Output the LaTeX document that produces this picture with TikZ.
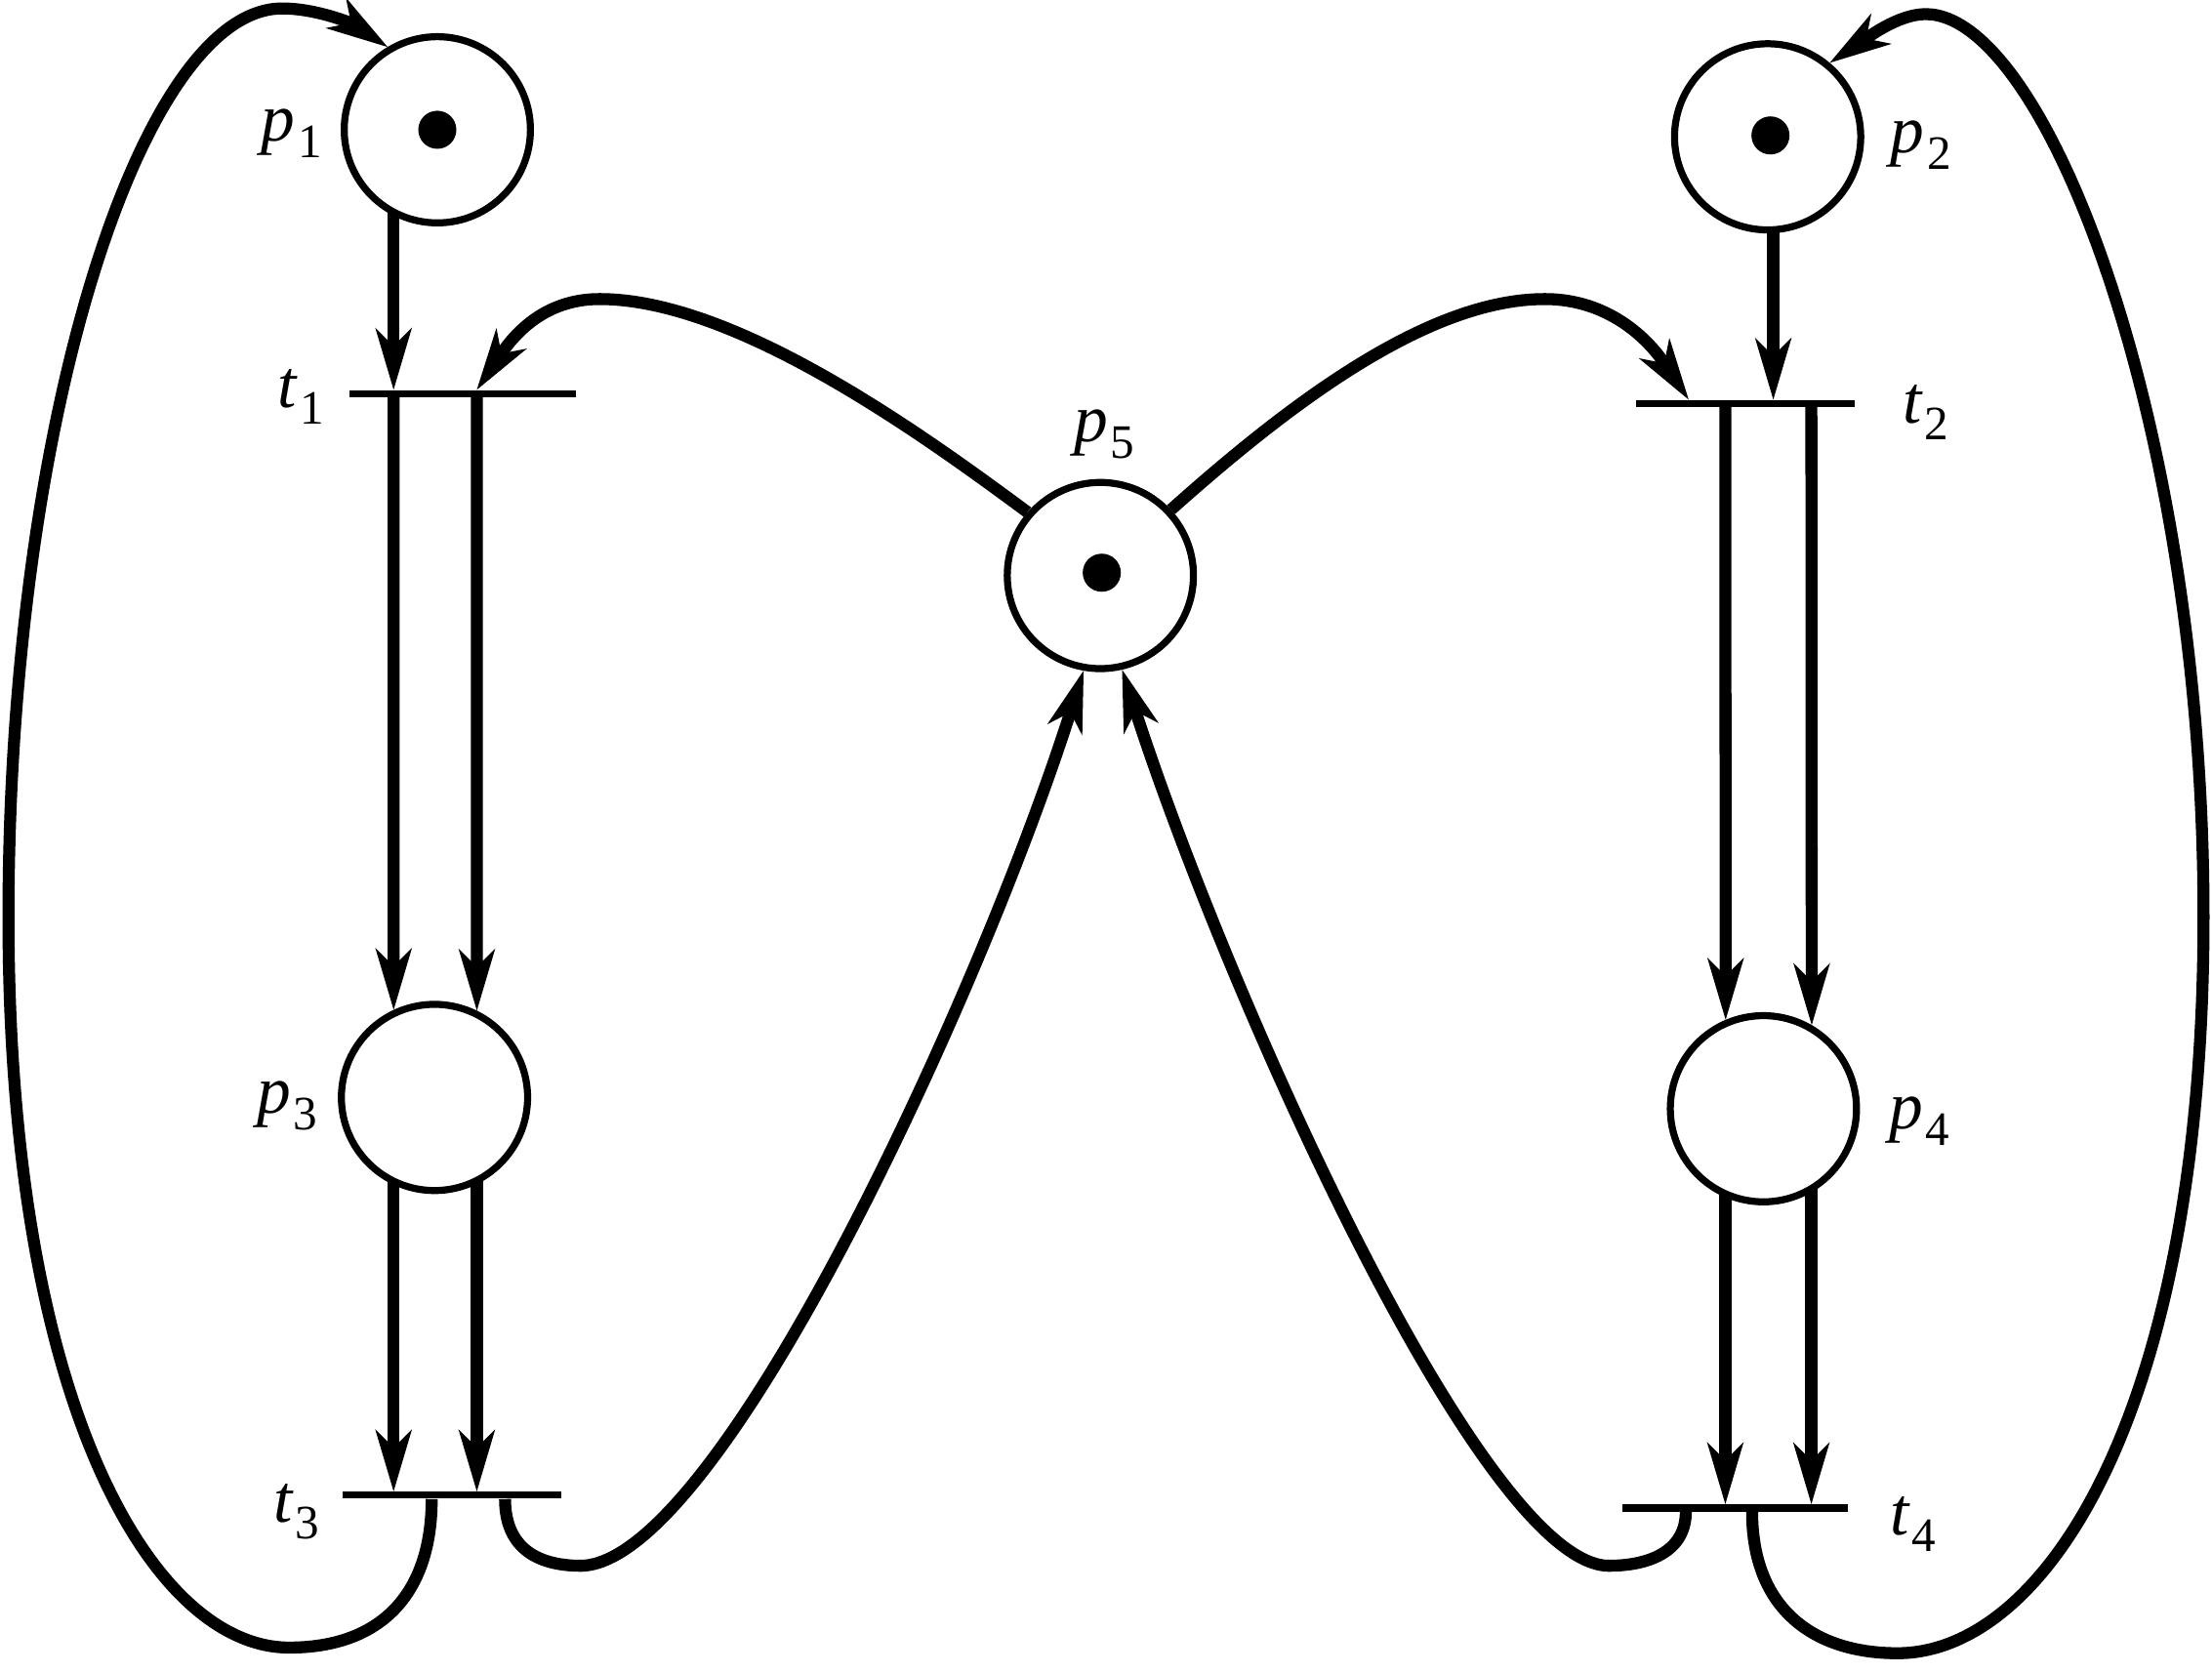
\documentclass[tikz,border=0pt]{standalone}
\usepackage{fontspec}
\setmainfont{Liberation Serif}
\usetikzlibrary{arrows.meta}
\pgfdeclarelayer{bg}
\pgfsetlayers{bg,main}
\newcommand{\pnlabel}[2]{{\itshape #1}\kern2pt\raisebox{-12pt}{\fontsize{34}{34}\selectfont #2}}
\begin{document}
\begin{tikzpicture}[x=1pt,y=-1pt,
  placenode/.style={circle,draw,line width=5pt,fill=white,minimum size=132pt,inner sep=0pt},
  tokendot/.style={circle,fill,minimum size=27pt,inner sep=0pt},
  transbar/.style={rectangle,fill,minimum height=5pt,inner sep=0pt},
  conn/.style={line width=8.5pt},
  arr/.style={conn,-{Stealth[length=44pt,width=26pt,inset=13pt,line width=1pt]}},
  lbl/.style={anchor=base west,inner sep=0pt,font=\fontsize{48}{50}\selectfont}]
\useasboundingbox (0,0) rectangle (1568,1186);
% places
\node[placenode] (p1) at (310,92) {};
\node[placenode] (p2) at (1253,97) {};
\node[placenode] (p3) at (308,778) {};
\node[placenode] (p4) at (1250,786) {};
\node[placenode] (p5) at (780,408) {};
\node[tokendot] (k1) at (p1) {};
\node[tokendot] (k2) at (1255,96) {};
\node[tokendot] (k5) at (781,406) {};
% transitions
\node[transbar,minimum width=160pt] (t1) at (328,279) {};
\node[transbar,minimum width=155pt] (t2) at (1237.5,286) {};
\node[transbar,minimum width=155pt] (t3) at (320.5,1060) {};
\node[transbar,minimum width=160pt] (t4) at (1230,1069) {};
% labels
\node[lbl] (lp1) at (185,100) {\pnlabel{p}{1}};
\node[lbl] (lp2) at (1340,108) {\pnlabel{p}{2}};
\node[lbl] (lp3) at (182,789) {\pnlabel{p}{3}};
\node[lbl] (lp4) at (1339,800) {\pnlabel{p}{4}};
\node[lbl] (lp5) at (761,313) {\pnlabel{p}{5}};
\node[lbl] (lt1) at (197,289) {\pnlabel{t}{1}};
\node[lbl] (lt2) at (1349,300) {\pnlabel{t}{2}};
\node[lbl] (lt3) at (194,1079) {\pnlabel{t}{3}};
\node[lbl] (lt4) at (1340,1088) {\pnlabel{t}{4}};
% columns
\coordinate (cL) at (279,0);
\coordinate (cR) at (338,0);
\coordinate (dL) at (1223,0);
\coordinate (dR) at (1284,0);
\coordinate (dP) at (1257,0);
\coordinate (dT) at (1197,0);
\coordinate (e3a) at (306,0);
\coordinate (e3b) at (358,0);
\coordinate (e4a) at (1195,0);
\coordinate (e4b) at (1242,0);
\begin{pgfonlayer}{bg}
\draw[arr] (p1.center -| cL) -- (t1.north -| cL);
\draw[arr] (p2.center -| dP) -- (t2.north -| dP);
\draw[arr] (p3.center -| cL) -- (t3.north -| cL);
\draw[arr] (p3.center -| cR) -- (t3.north -| cR);
\draw[arr] (p4.center -| dL) -- (t4.north -| dL);
\draw[arr] (p4.center -| dR) -- (t4.north -| dR);
\draw[arr] (p5.139) .. controls (650,305) and (520,212) .. (425,212) .. controls (390,212) and (368,232) .. (t1.north -| cR);
\draw[arr] (p5.43) .. controls (910,290) and (1010,212) .. (1095,212) .. controls (1140,212) and (1168,240) .. (t2.north -| dT);
\end{pgfonlayer}
\draw[arr] (t1.south -| cL) -- (p3.115);
\draw[arr] (t1.south -| cR) -- (p3.64);
\draw[arr] (t2.south -| dL) -- (p4.113);
\draw[arr] (t2.south -| dR) -- (p4.60);
\draw[arr] (t3.south -| e3a) .. controls (306,1130) and (270,1168) .. (205,1168) .. controls (110,1168) and (6,1000) .. (6,650) .. controls (6,300) and (100,6) .. (200,6) .. controls (225,6) and (250,17) .. (p1.121);
\draw[arr] (t3.south -| e3b) .. controls (358,1095) and (378,1110) .. (412,1110) .. controls (510,1108) and (695,705) .. (p5.260);
\draw[arr] (t4.south -| e4a) .. controls (1195,1098) and (1172,1110) .. (1140,1110) .. controls (1050,1108) and (870,705) .. (p5.283);
\draw[arr] (t4.south -| e4b) .. controls (1242,1140) and (1285,1172) .. (1345,1172) .. controls (1450,1172) and (1562,1000) .. (1562,650) .. controls (1562,300) and (1450,10) .. (1365,10) .. controls (1345,10) and (1322,28) .. (p2.50);
\end{tikzpicture}
\end{document}
